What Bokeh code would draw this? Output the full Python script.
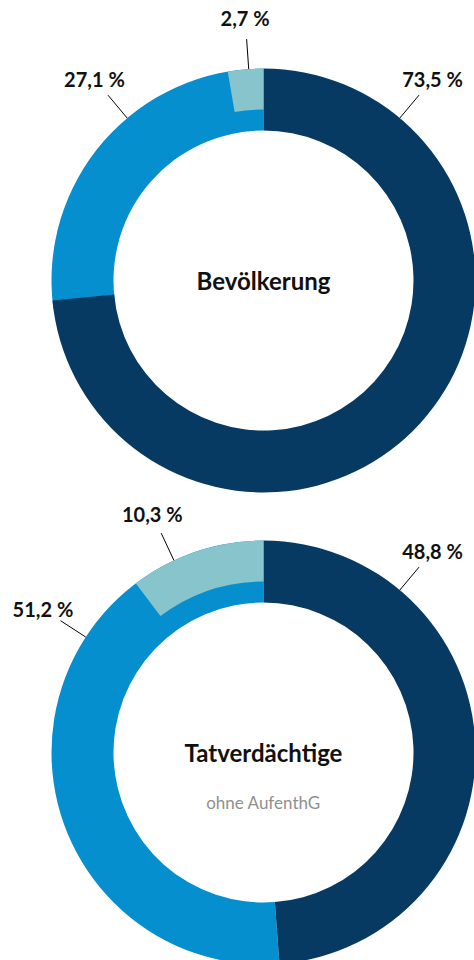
import math
from bokeh.plotting import figure
from bokeh.models import Range1d
from bokeh.core.properties import value
from bokeh.embed import file_html
from bokeh.resources import INLINE

# ---- data ----
titles = ["Bevölkerung", "Tatverdächtige"]
subtitles = ["", "ohne AufenthG"]
dark_share = [73.5, 48.8]
blue_share = [27.1, 51.2]
light_share = [2.7, 10.3]

# ---- layout / style ----
W, H = 474, 960
CX = 263
CY_PAGE = [280, 752]
R_OUT, R_IN, R_LIGHT_IN = 212, 150, 171
dark_label_deg = [40, 40]
blue_label_deg = [-40, -57]
light_label_deg = [-4, -25]
DARK, BLUE, LIGHT = "#063a63", "#058fcf", "#87c4cc"
FONT = "Lato"


def fmt(v):
    return f"{v:.1f}".replace(".", ",") + " %"


p = figure(width=W, height=H, output_backend="svg", toolbar_location=None,
           x_range=Range1d(0, W), y_range=Range1d(0, H),
           min_border=0, outline_line_color=None)
p.axis.visible = False
p.grid.visible = False
p.background_fill_color = "white"
p.border_fill_color = "white"


def to_data_y(page_y):
    return H - page_y


def polar(cx, cy, r, deg):
    t = math.pi / 2 - math.radians(deg)
    return cx + r * math.cos(t), cy + r * math.sin(t)


for i in range(len(titles)):
    cy = to_data_y(CY_PAGE[i])
    top = math.pi / 2
    # blue slice (counter-clockwise from top)
    p.annular_wedge(x=[CX], y=[cy], inner_radius=R_IN, outer_radius=R_OUT,
                    start_angle=top, end_angle=top + 2 * math.pi * blue_share[i] / 100,
                    direction="anticlock", fill_color=BLUE, line_color=None)
    # dark slice (clockwise from top)
    p.annular_wedge(x=[CX], y=[cy], inner_radius=R_IN, outer_radius=R_OUT,
                    start_angle=top, end_angle=top - 2 * math.pi * dark_share[i] / 100,
                    direction="clock", fill_color=DARK, line_color=None)
    # light sub-slice (outer band, counter-clockwise from top)
    p.annular_wedge(x=[CX], y=[cy], inner_radius=R_LIGHT_IN, outer_radius=R_OUT,
                    start_angle=top, end_angle=top + 2 * math.pi * light_share[i] / 100,
                    direction="anticlock", fill_color=LIGHT, line_color=None)

    for val, deg in ((dark_share[i], dark_label_deg[i]),
                     (blue_share[i], blue_label_deg[i]),
                     (light_share[i], light_label_deg[i])):
        x0, y0 = polar(CX, cy, R_OUT, deg)
        x1, y1 = polar(CX, cy, R_OUT + 30, deg)
        p.segment(x0=[x0], y0=[y0], x1=[x1], y1=[y1], line_color="black", line_width=1)
        lx, ly = polar(CX, cy, R_OUT + 51, deg)
        p.text(x=[lx], y=[ly], text=[fmt(val)], text_align="center",
               text_baseline="middle", text_font=value(FONT),
               text_font_style="bold", text_font_size="20px", text_color="#111111")

    p.text(x=[CX], y=[cy], text=[titles[i]], text_align="center",
           text_baseline="middle", text_font=value(FONT), text_font_style="bold",
           text_font_size="24px", text_color="#111111")
    if subtitles[i]:
        p.text(x=[CX], y=[cy - 50], text=[subtitles[i]], text_align="center",
               text_baseline="middle", text_font=value(FONT),
               text_font_size="17px", text_color="#8f8f8f")

open("out.html", "w").write(file_html(p, INLINE))
